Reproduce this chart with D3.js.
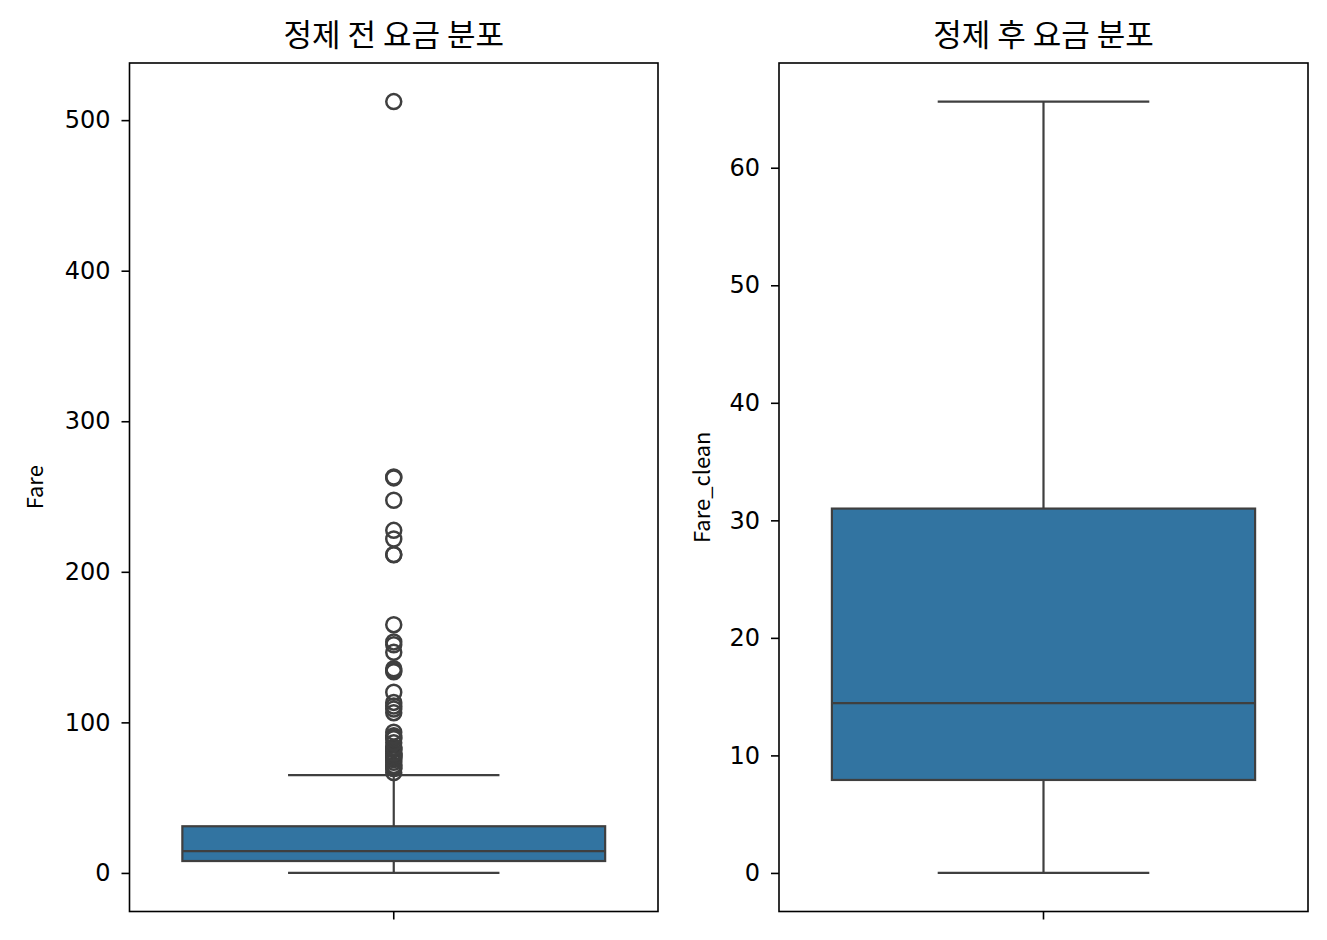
<!DOCTYPE html>
<html>
<head>
<meta charset="utf-8">
<script src="https://cdn.jsdelivr.net/npm/d3@7"></script>
<style>
  html, body { margin: 0; padding: 0; background: #fff; }
  svg text { fill: #000; }
  .tick text { font-family: "DejaVu Sans", sans-serif; font-size: 24px; }
  .title { font-family: "Noto Sans CJK KR", sans-serif; font-size: 31px; }
  .ylab { font-family: "Noto Sans CJK KR", sans-serif; font-size: 22px; }
</style>
</head>
<body>
<svg id="chart" width="1327" height="940"></svg>
<script>
// panel titles / labels
const titles = ['정제 전 요금 분포', '정제 후 요금 분포'];
const yLabels = ['Fare', 'Fare_clean'];

// five-number summaries: [low whisker, Q1, median, Q3, high whisker]
const rawStats = [0, 7.91, 14.45, 31.0, 65.0];
const cleanStats = [0, 7.91, 14.45, 31.0, 65.63];

// points beyond the upper whisker in the raw fare panel
const rawOutliers = [66.6, 69.3, 69.55, 71.0, 71.28, 73.5, 75.25, 76.29, 76.73, 77.29,
  77.96, 78.27, 78.85, 79.2, 79.65, 81.86, 82.17, 83.16, 83.48, 86.5, 89.1, 90.0,
  91.08, 93.5, 106.43, 108.9, 110.88, 113.28, 120.0, 133.65, 134.5, 135.63, 146.52,
  151.55, 153.46, 164.87, 211.34, 211.5, 221.78, 227.53, 247.52, 262.38, 263.0, 512.33];
const cleanOutliers = [];

// y ticks per panel
const rawTicks = [0, 100, 200, 300, 400, 500];
const cleanTicks = [0, 10, 20, 30, 40, 50, 60];

const panels = [
  { title: titles[0], ylab: yLabels[0], stats: rawStats, out: rawOutliers, ticks: rawTicks, x0: 129.5, x1: 658, labX: 35 },
  { title: titles[1], ylab: yLabels[1], stats: cleanStats, out: cleanOutliers, ticks: cleanTicks, x0: 779, x1: 1308, labX: 702 },
];

const TOP = 63, BOTTOM = 911.5;
const BOX_FILL = '#3274a1', LINE = '#3f3f3f';
const svg = d3.select('#chart');

panels.forEach((p) => {
  // matplotlib-style 5% padding around the data range
  const lo = d3.min([...p.stats, ...p.out]);
  const hi = d3.max([...p.stats, ...p.out]);
  const pad = (hi - lo) * 0.05;
  const y = d3.scaleLinear().domain([lo - pad, hi + pad]).range([BOTTOM, TOP]);
  const x = d3.scaleBand().domain(['']).range([p.x0, p.x1]).paddingInner(0).paddingOuter(0);

  const g = svg.append('g');
  const cx = x('') + x.bandwidth() / 2;
  const bw = x.bandwidth() * 0.8;
  const [wLo, q1, med, q3, wHi] = p.stats;

  // whiskers
  g.append('line').attr('x1', cx).attr('x2', cx).attr('y1', y(q3)).attr('y2', y(wHi))
    .attr('stroke', LINE).attr('stroke-width', 2.2);
  g.append('line').attr('x1', cx).attr('x2', cx).attr('y1', y(q1)).attr('y2', y(wLo))
    .attr('stroke', LINE).attr('stroke-width', 2.2);
  [wLo, wHi].forEach((v) => {
    g.append('line').attr('x1', cx - bw / 4).attr('x2', cx + bw / 4).attr('y1', y(v)).attr('y2', y(v))
      .attr('stroke', LINE).attr('stroke-width', 2.2);
  });

  // box + median
  g.append('rect').attr('x', cx - bw / 2).attr('width', bw)
    .attr('y', y(q3)).attr('height', y(q1) - y(q3))
    .attr('fill', BOX_FILL).attr('stroke', LINE).attr('stroke-width', 2.2);
  g.append('line').attr('x1', cx - bw / 2).attr('x2', cx + bw / 2).attr('y1', y(med)).attr('y2', y(med))
    .attr('stroke', LINE).attr('stroke-width', 2.2);

  // fliers
  g.selectAll('circle.flier').data(p.out).join('circle').attr('class', 'flier')
    .attr('cx', cx).attr('cy', (d) => y(d)).attr('r', 7.5)
    .attr('fill', 'none').attr('stroke', LINE).attr('stroke-width', 2.5);

  // axes
  const ya = svg.append('g').attr('transform', `translate(${p.x0},0)`)
    .call(d3.axisLeft(y).tickValues(p.ticks).tickSize(8).tickPadding(11));
  ya.select('.domain').remove();
  ya.selectAll('.tick line').attr('stroke', '#000').attr('stroke-width', 1.6);
  ya.selectAll('.tick text').attr('fill', '#000');

  const xa = svg.append('g').attr('transform', `translate(0,${BOTTOM})`)
    .call(d3.axisBottom(x).tickSize(8).tickFormat(() => ''));
  xa.select('.domain').remove();
  xa.selectAll('.tick line').attr('stroke', '#000').attr('stroke-width', 1.6);

  svg.append('rect').attr('x', p.x0).attr('y', TOP).attr('width', p.x1 - p.x0).attr('height', BOTTOM - TOP)
    .attr('fill', 'none').attr('stroke', '#000').attr('stroke-width', 1.6);

  svg.append('text').attr('class', 'title').attr('x', (p.x0 + p.x1) / 2).attr('y', 46)
    .attr('text-anchor', 'middle').text(p.title);
  svg.append('text').attr('class', 'ylab')
    .attr('transform', `translate(${p.labX},${(TOP + BOTTOM) / 2}) rotate(-90)`)
    .attr('text-anchor', 'middle').attr('dy', '0.35em').text(p.ylab);
});
</script>
</body>
</html>
